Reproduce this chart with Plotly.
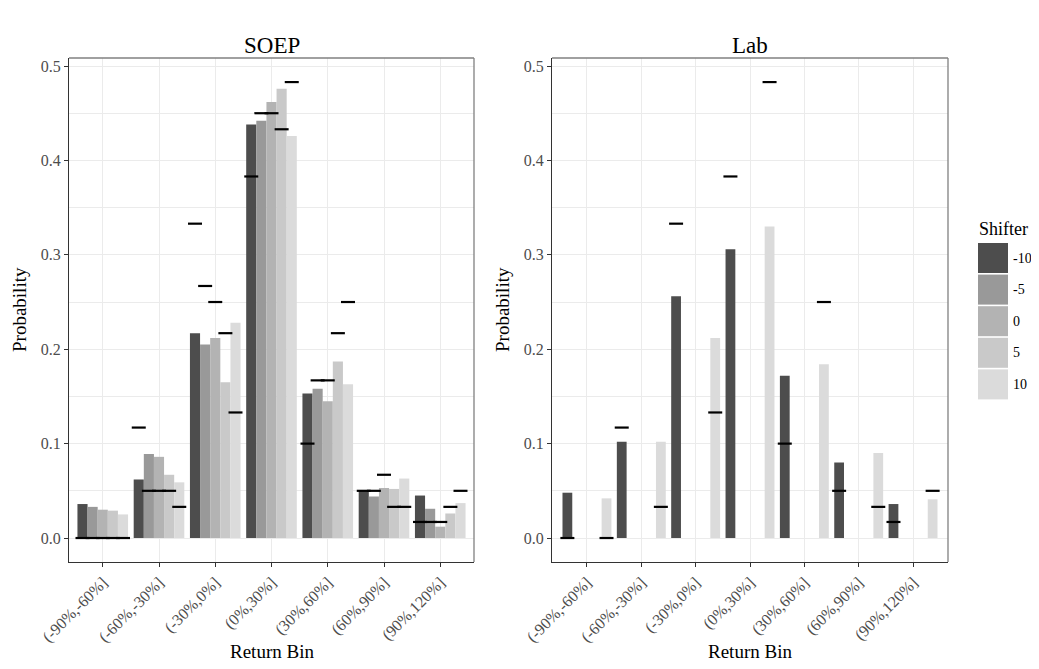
import plotly.graph_objects as go

# ---------------- data ----------------
bins = ["(-90%,-60%]", "(-60%,-30%]", "(-30%,0%]", "(0%,30%]",
        "(30%,60%]", "(60%,90%]", "(90%,120%]"]
shifters = ["-10", "-5", "0", "5", "10"]
colors = ["#4D4D4D", "#999999", "#B3B3B3", "#C9C9C9", "#DBDBDB"]

soep_m10 = [0.036, 0.062, 0.217, 0.438, 0.153, 0.050, 0.045]
soep_m5 = [0.033, 0.089, 0.205, 0.442, 0.158, 0.044, 0.031]
soep_0 = [0.030, 0.086, 0.212, 0.462, 0.145, 0.053, 0.012]
soep_5 = [0.029, 0.067, 0.165, 0.476, 0.187, 0.052, 0.026]
soep_10 = [0.025, 0.059, 0.228, 0.426, 0.163, 0.063, 0.037]

lab_m10 = [0.048, 0.102, 0.256, 0.306, 0.172, 0.080, 0.036]
lab_10 = [0.042, 0.102, 0.212, 0.330, 0.184, 0.090, 0.041]

theory_m10 = [0.0, 0.117, 0.333, 0.383, 0.100, 0.050, 0.017]
theory_m5 = [0.0, 0.050, 0.267, 0.450, 0.167, 0.050, 0.017]
theory_0 = [0.0, 0.050, 0.250, 0.450, 0.167, 0.067, 0.017]
theory_5 = [0.0, 0.050, 0.217, 0.433, 0.217, 0.033, 0.033]
theory_10 = [0.0, 0.033, 0.133, 0.483, 0.250, 0.033, 0.050]

y_ticks = [0.0, 0.1, 0.2, 0.3, 0.4, 0.5]

soep = {"-10": soep_m10, "-5": soep_m5, "0": soep_0, "5": soep_5, "10": soep_10}
lab = {"-10": lab_m10, "10": lab_10}
theory = {"-10": theory_m10, "-5": theory_m5, "0": theory_0, "5": theory_5, "10": theory_10}

# ---------------- layout helpers ----------------
PAGE_OFF = 8          # default body margin of the html page
W, H = 1039 - 2 * PAGE_OFF, 669 - 2 * PAGE_OFF
FONT = "Liberation Serif"
dodge = 0.9
bw = dodge / len(shifters)
idx = list(range(1, len(bins) + 1))


def px(x):
    return (x - PAGE_OFF) / W


def py(y):
    return 1 - (y - PAGE_OFF) / H


fig = go.Figure()

panels = [("x", "y", soep), ("x2", "y2", lab)]
for xa, ya, data in panels:
    for k, s in enumerate(shifters):
        if s not in data:
            continue
        off = -dodge / 2 + k * bw
        fig.add_trace(go.Bar(
            x=idx, y=data[s], xaxis=xa, yaxis=ya,
            offset=off, width=bw,
            marker=dict(color=colors[k], line=dict(width=0)),
            name=s, showlegend=False,
        ))
    for k, s in enumerate(shifters):
        if s not in data:
            continue
        off = -dodge / 2 + (k + 0.5) * bw
        fig.add_trace(go.Scatter(
            x=[i + off for i in idx], y=theory[s], xaxis=xa, yaxis=ya,
            mode="markers",
            marker=dict(symbol="line-ew", size=10,
                        line=dict(color="black", width=2.2)),
            showlegend=False, hoverinfo="y",
        ))

yrange = [-0.0254, 0.5085]
common_x = dict(
    tickmode="array", tickvals=idx, ticktext=bins, tickangle=-45,
    showgrid=True, gridcolor="#EBEBEB", gridwidth=1,
    ticks="outside", ticklen=4, tickcolor="#333333", tickwidth=1,
    showline=True, linecolor="#333333", linewidth=1,
    zeroline=False, automargin=False,
    tickfont=dict(family=FONT, size=16, color="#4D4D4D"),
)
common_y = dict(
    range=yrange, tickmode="array", tickvals=y_ticks,
    ticktext=[f"{v:.1f}" for v in y_ticks],
    showgrid=True, gridcolor="#EBEBEB", gridwidth=1,
    minor=dict(dtick=0.05, tick0=0, showgrid=True, gridcolor="#EBEBEB",
               gridwidth=0.6, ticks=""),
    ticks="outside", ticklen=4, tickcolor="#333333", tickwidth=1,
    showline=True, linecolor="#333333", linewidth=1,
    zeroline=False, automargin=False,
    tickfont=dict(family=FONT, size=16, color="#4D4D4D"),
)

ydom = [py(562), py(58)]
fig.update_layout(
    width=W, height=H, autosize=False,
    margin=dict(l=0, r=0, t=0, b=0, autoexpand=False),
    paper_bgcolor="white", plot_bgcolor="white",
    barmode="overlay",
    showlegend=False,
    xaxis=dict(common_x, domain=[px(69), px(474)], range=[0.4, 7.6]),
    yaxis=dict(common_y, domain=ydom, anchor="x"),
    xaxis2=dict(common_x, domain=[px(552), px(948)], range=[0.357, 7.643], anchor="y2"),
    yaxis2=dict(common_y, domain=ydom, anchor="x2"),
)

shapes = []
# gray panel borders on top and right
for xr, yr in [("x domain", "y domain"), ("x2 domain", "y2 domain")]:
    shapes.append(dict(type="line", xref=xr, yref=yr, x0=0, x1=1, y0=1, y1=1,
                       line=dict(color="#808080", width=1.3)))
    shapes.append(dict(type="line", xref=xr, yref=yr, x0=1, x1=1, y0=0, y1=1,
                       line=dict(color="#808080", width=1.3)))

title_font = dict(family=FONT, size=23, color="black")
axis_font = dict(family=FONT, size=19, color="black")
annotations = [
    dict(text="SOEP", x=px(271.5), y=py(46), xref="paper", yref="paper",
         showarrow=False, font=title_font, xanchor="center", yanchor="middle"),
    dict(text="Lab", x=px(750), y=py(46), xref="paper", yref="paper",
         showarrow=False, font=title_font, xanchor="center", yanchor="middle"),
    dict(text="Return Bin", x=px(271.5), y=py(651), xref="paper", yref="paper",
         showarrow=False, font=axis_font, xanchor="center", yanchor="middle"),
    dict(text="Return Bin", x=px(750), y=py(651), xref="paper", yref="paper",
         showarrow=False, font=axis_font, xanchor="center", yanchor="middle"),
    dict(text="Probability", x=px(19), y=py(310), xref="paper", yref="paper",
         showarrow=False, font=axis_font, xanchor="center", yanchor="middle",
         textangle=-90),
    dict(text="Probability", x=px(502), y=py(310), xref="paper", yref="paper",
         showarrow=False, font=axis_font, xanchor="center", yanchor="middle",
         textangle=-90),
    dict(text="Shifter", x=px(977), y=py(229), xref="paper", yref="paper",
         showarrow=False, font=dict(family=FONT, size=18, color="black"),
         xanchor="left", yanchor="middle"),
]

# manual legend
key_top = 243
key_h = 30
key_step = 31.6
key_x0 = 978
for k, s in enumerate(shifters):
    y0 = key_top + k * key_step
    shapes.append(dict(type="rect", xref="paper", yref="paper",
                       x0=px(key_x0), x1=px(key_x0 + 30), y0=py(y0 + key_h), y1=py(y0),
                       fillcolor=colors[k], line=dict(width=0)))
    annotations.append(dict(text=s, x=px(key_x0 + 33), y=py(y0 + key_h / 2),
                            xref="paper", yref="paper", showarrow=False,
                            font=dict(family=FONT, size=14, color="black"),
                            xanchor="left", yanchor="middle"))

fig.update_layout(shapes=shapes, annotations=annotations)

fig.write_html("out.html")
